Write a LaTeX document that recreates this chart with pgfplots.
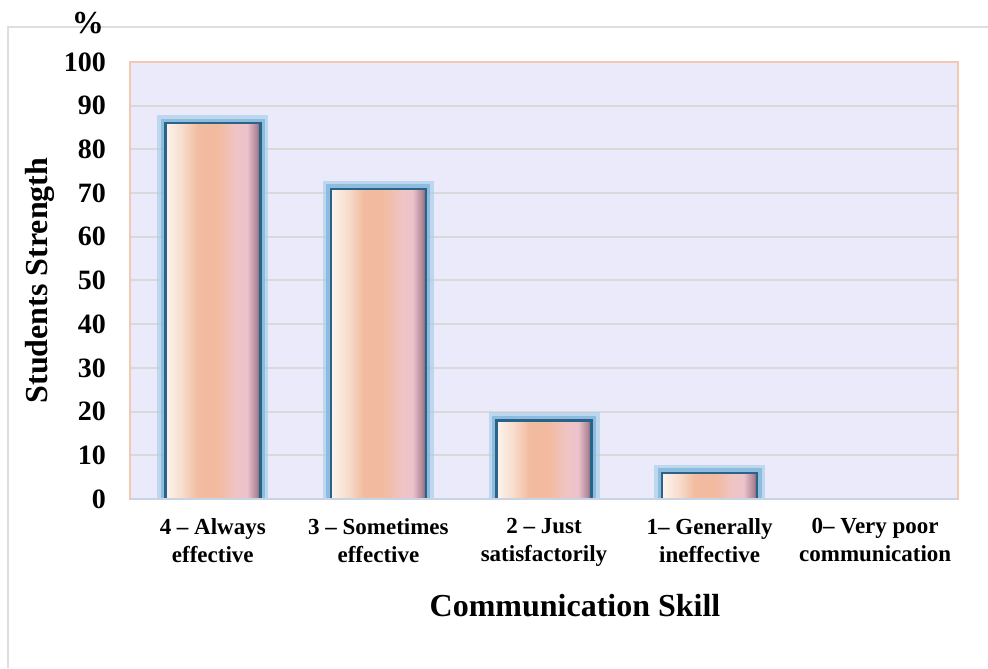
\documentclass[border=0pt]{standalone}
\usepackage{pgfplots}
\pgfplotsset{compat=1.18}
\usepackage{fontspec}
\setmainfont{Liberation Serif}
\definecolor{bgfill}{RGB}{234,234,251}
\definecolor{gridc}{RGB}{217,217,217}
\definecolor{peachline}{RGB}{242,200,180}
\definecolor{barline}{RGB}{40,100,135}
\definecolor{halo}{RGB}{110,170,212}
\definecolor{halolight}{RGB}{170,207,233}
\definecolor{frame}{RGB}{222,222,222}
\definecolor{bottomline}{RGB}{200,212,225}
\definecolor{bsA}{RGB}{253,244,238}
\definecolor{bsB}{RGB}{247,220,204}
\definecolor{bsC}{RGB}{242,188,160}
\definecolor{bsD}{RGB}{242,186,158}
\definecolor{bsE}{RGB}{240,196,196}
\definecolor{bsF}{RGB}{236,194,204}
\definecolor{bsG}{RGB}{175,135,150}
\definecolor{bsH}{RGB}{120,95,115}
\pgfdeclarehorizontalshading{barshade}{100bp}{%
  color(0bp)=(bsA);
  color(25bp)=(bsA);
  color(34bp)=(bsB);
  color(42bp)=(bsC);
  color(52bp)=(bsD);
  color(62bp)=(bsE);
  color(68bp)=(bsF);
  color(73bp)=(bsG);
  color(75bp)=(bsH);
  color(100bp)=(bsH)}
\pgfplotstableread{
x y
0 86
1 71
2 18
3 6
}\bardata
\begin{document}
\begin{tikzpicture}
\path[use as bounding box] (-65pt,-84.5pt) rectangle (429pt,249.5pt);
\draw[frame,line width=1pt] (-61pt,-84.5pt) -- (-61pt,236pt) -- (429pt,236pt);
\begin{axis}[
  at={(0,0)}, anchor=south west,
  scale only axis, width=414pt, height=218.5pt,
  xmin=-0.5, xmax=4.5, ymin=0, ymax=100,
  xtick={0,1,2,3,4},
  xticklabels={4 -- Always\\effective, 3 -- Sometimes\\effective, 2 -- Just\\satisfactorily, 1-- Generally\\ineffective, 0-- Very poor\\communication},
  xticklabel style={align=center, font=\bfseries\fontsize{11.5}{14}\selectfont, yshift=-6pt},
  ytick distance=10,
  yticklabel style={font=\bfseries\fontsize{14}{16}\selectfont, xshift=-8.5pt},
  /pgf/number format/assume math mode=true,
  major tick length=0pt,
  ymajorgrids, grid style={gridc, line width=1pt},
  axis background/.style={fill=bgfill},
  axis line style={peachline, line width=0.8pt},
  xlabel={Communication Skill},
  xlabel style={at={(axis description cs:0.5375,0)}, anchor=center, yshift=-53.5pt, font=\bfseries\fontsize{16}{18}\selectfont},
  ylabel={Students Strength},
  ylabel style={at={(axis description cs:0,0.5)}, anchor=center, yshift=45pt, font=\bfseries\fontsize{16}{18}\selectfont},
  ybar, bar width=47.5pt, bar shift=0pt,
]
\addplot[draw=halolight, draw opacity=0.7, line width=8pt, fill=none] table[x=x,y=y] {\bardata};
\addplot[draw=halo, draw opacity=0.6, line width=4.5pt, fill=none] table[x=x,y=y] {\bardata};
\addplot[draw=barline, line width=1.2pt, shading=barshade] coordinates {(0,86)};
\addplot[draw=barline, line width=1.2pt, shading=barshade] coordinates {(1,71)};
\addplot[draw=barline, line width=1.2pt, shading=barshade] coordinates {(2,18)};
\addplot[draw=barline, line width=1.2pt, shading=barshade] coordinates {(3,6)};
\draw[bottomline, line width=1pt] (rel axis cs:0,0) -- (rel axis cs:1,0);
\end{axis}
\node[font=\bfseries\fontsize{16}{17}\selectfont] at (-21pt,238pt) {\%};
\end{tikzpicture}
\end{document}
